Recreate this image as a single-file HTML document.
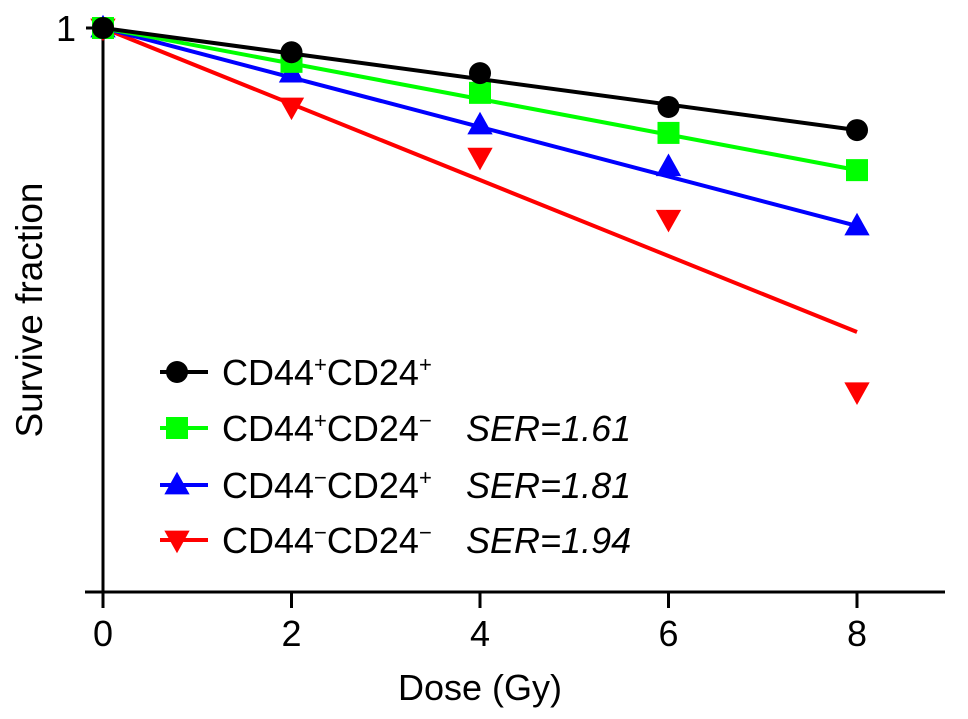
<!DOCTYPE html>
<html><head><meta charset="utf-8"><style>
body{margin:0;background:#fff}
svg{display:block;font-family:"Liberation Sans",Arial,sans-serif}
</style></head><body>
<svg id="chart" width="968" height="719" viewBox="0 0 968 719">
<g id="axes"></g><g id="series"></g><g id="legend"></g>
</svg>
<script>
const doses=[0,2,4,6,8];
const xTicks=[0,2,4,6,8];
const names=["CD44+CD24+","CD44+CD24-","CD44-CD24+","CD44-CD24-"];
const blackVals=[1,0.957,0.92,0.86,0.819];
const greenVals=[1,0.94,0.885,0.814,0.748];
const blueVals=[1,0.92,0.828,0.754,0.649];
const redVals=[1,0.86,0.771,0.661,0.355];
const fitEnd=[0.819,0.748,0.649,0.461];
const serLabels=["","SER=1.61","SER=1.81","SER=1.94"];
const NS="http://www.w3.org/2000/svg";
const X=v=>103+v*94.25, Y=v=>592-v*564;
function mk(t,a,p){const e=document.createElementNS(NS,t);for(const k in a)e.setAttribute(k,a[k]);p.appendChild(e);return e;}
const ax=document.getElementById('axes');
let e=mk('line',{x1:103,y1:Y(1)-8,x2:103,y2:592,stroke:'#000','stroke-width':3},ax);


e=mk('line',{x1:85,y1:592,x2:945,y2:592,stroke:'#000','stroke-width':3},ax);


mk('line',{x1:86,y1:Y(1),x2:103,y2:Y(1),stroke:'#000','stroke-width':3},ax);
e=mk('text',{x:66,y:Y(1)+13,'font-size':36,'text-anchor':'middle'},ax);e.textContent='1';


xTicks.forEach(t=>{
 mk('line',{x1:X(t),y1:592,x2:X(t),y2:608,stroke:'#000','stroke-width':3},ax);
 const l=mk('text',{x:X(t),y:646,'font-size':36,'text-anchor':'middle'},ax);l.textContent=t;
 
 
});
e=mk('text',{x:480,y:700,'font-size':36,'text-anchor':'middle'},ax);e.textContent='Dose (Gy)';


e=mk('text',{x:0,y:0,'font-size':37,'text-anchor':'middle',transform:'translate(42,310) rotate(-90)'},ax);e.textContent='Survive fraction';


const colors=['#000','#00ff00','#0000ff','#ff0000'];
const shapes=['circle','square','up','down'];
const allVals=[blackVals,greenVals,blueVals,redVals];
function marker(g,s,x,y,c,r){
 if(s==='circle')return mk('circle',{cx:x,cy:y,r:r,fill:c},g);
 if(s==='square')return mk('rect',{x:x-r,y:y-r,width:2*r,height:2*r,fill:c},g);
 if(s==='up')return mk('polygon',{points:`${x},${y-r*1.2} ${x-r*1.15},${y+r*0.85} ${x+r*1.15},${y+r*0.85}`,fill:c},g);
 return mk('polygon',{points:`${x},${y+r*1.2} ${x-r*1.15},${y-r*0.85} ${x+r*1.15},${y-r*0.85}`,fill:c},g);
}
const sg=document.getElementById('series');
[3,2,1,0].forEach(i=>{
 const g=mk('g',{},sg);
 
 
 const ln=mk('line',{x1:X(0),y1:Y(1),x2:X(8),y2:Y(fitEnd[i]),stroke:colors[i],'stroke-width':4},g);
 
 
 allVals[i].forEach((v,j)=>{
  const m=marker(g,shapes[i],X(doses[j]),Y(v),colors[i],11);
  
  
 });
});
const lg=document.getElementById('legend');
const rows=[372,428,485,540];
const labelsHTML=[["CD44","+","CD24","+"],["CD44","+","CD24","−"],["CD44","−","CD24","+"],["CD44","−","CD24","−"]];
names.forEach((n,i)=>{
 const g=mk('g',{},lg);
 
 
 mk('line',{x1:160,y1:rows[i],x2:208,y2:rows[i],stroke:colors[i],'stroke-width':4},g);
 marker(g,shapes[i],177,rows[i],colors[i],11);
 const t=mk('text',{x:222,y:rows[i]+13,'font-size':36},g);
 const p=labelsHTML[i];
 [[p[0],0],[p[1],1],[p[2],0],[p[3],1]].forEach(([s,sup])=>{
  const ts=mk('tspan',sup?{'font-size':22,dy:-13}:{dy:(t.childNodes.length?13:0)},t);ts.textContent=s;
 });
 if(serLabels[i]){const s=mk('text',{x:466,y:rows[i]+13,'font-size':36,'font-style':'italic'},g);s.textContent=serLabels[i];}
});
</script>
</body></html>
